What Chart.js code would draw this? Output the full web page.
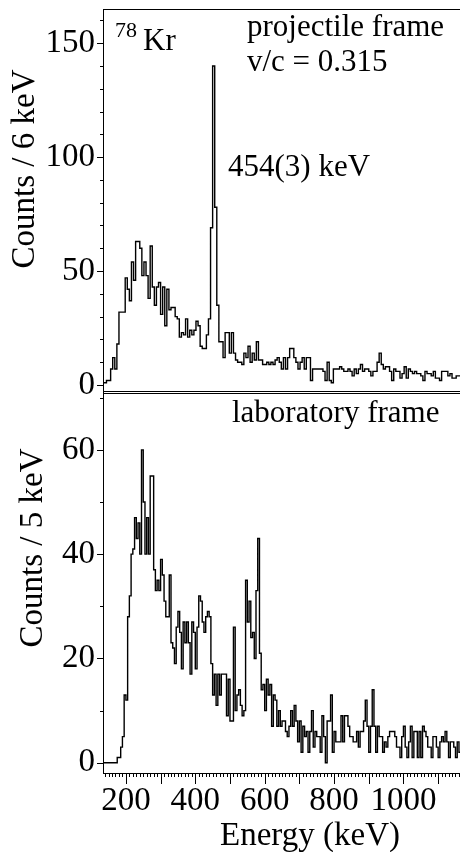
<!DOCTYPE html>
<html>
<head>
<meta charset="utf-8">
<title>78Kr spectra</title>
<script src="https://cdn.jsdelivr.net/npm/chart.js@4.4.1/dist/chart.umd.min.js"></script>
<style>
  html, body { margin: 0; padding: 0; background: #fff; }
</style>
</head>
<body>
<canvas id="spectrumChart" width="460" height="852"></canvas>
<script>
/* ---------- spectra: projectile frame (top) and laboratory frame (bottom) ---------- */
Chart.defaults.font.family = '"Liberation Serif", "Times New Roman", serif';
Chart.defaults.color = "#000";

// Doppler corrected spectrum, 6 keV bins starting at 132 keV
const pfStart = 132;
const pfBin = 6;
const pfCounts = [
    1, 1, 2, 2, 7, 12, 7, 18, 32, 32,
    32, 47, 42, 37, 54, 46, 63, 63, 60, 48,
    54, 48, 38, 61, 43, 35, 43, 45, 31, 43,
    26, 42, 33, 34, 34, 30, 29, 21, 23, 22,
    29, 21, 24, 22, 24, 28, 26, 17, 16, 16,
    22, 29, 69, 140, 78, 35, 19, 19, 12, 23,
    23, 14, 23, 14, 11, 10, 10, 9, 14, 12,
    17, 10, 14, 11, 19, 11, 11, 9, 9, 10,
    9, 10, 9, 11, 12, 10, 7, 12, 7, 12,
    16, 16, 12, 10, 7, 10, 12, 7, 12, 12,
    2, 7, 7, 7, 7, 7, 6, 2, 10, 2,
    1, 7, 7, 7, 8, 7, 6, 6, 7, 6,
    4, 7, 5, 7, 9, 6, 7, 7, 6, 4,
    6, 6, 10, 14, 9, 7, 8, 8, 6, 2,
    7, 6, 6, 3, 5, 8, 3, 7, 6, 5,
    6, 5, 5, 4, 2, 6, 5, 5, 4, 6,
    3, 3, 2, 6, 6, 6, 4, 5, 3, 3,
    4, 4,
];

// uncorrected spectrum, 5 keV bins starting at 130 keV
const labStart = 130;
const labBin = 5;
const labCounts = [
    0, 0, 0, 0, 0, 0, 0, 0, 0, 1,
    1, 3, 5, 13, 12, 28, 32, 40, 41, 47,
    43, 46, 40, 60, 50, 40, 47, 40, 55, 55,
    37, 33, 35, 33, 39, 36, 31, 28, 28, 36,
    23, 22, 19, 26, 29, 25, 18, 27, 23, 27,
    23, 17, 27, 25, 18, 26, 32, 31, 27, 25,
    28, 29, 28, 19, 13, 17, 11, 17, 13, 17,
    17, 17, 9, 16, 8, 8, 26, 10, 13, 14,
    11, 9, 10, 35, 27, 31, 24, 25, 20, 33,
    43, 21, 14, 15, 10, 16, 13, 15, 7, 13,
    12, 7, 10, 7, 8, 8, 6, 5, 7, 10,
    7, 11, 8, 4, 8, 2, 7, 5, 6, 2,
    6, 10, 3, 6, 5, 5, 2, 9, 5, 0,
    8, 8, 13, 2, 6, 4, 4, 4, 9, 4,
    9, 9, 7, 5, 5, 4, 4, 6, 3, 6,
    6, 8, 12, 7, 2, 7, 14, 7, 2, 7,
    5, 5, 2, 4, 3, 5, 6, 6, 6, 5,
    3, 3, 1, 5, 7, 3, 1, 4, 7, 1,
    6, 6, 1, 6, 1, 7, 6, 5, 3, 3,
    1, 5, 5, 3, 1, 4, 5, 4, 6, 4,
    1, 4, 4, 3, 1, 4, 2,
];

const energyTicks = [200, 400, 600, 800, 1000];
const pfTicks = [0, 50, 100, 150];
const labTicks = [0, 20, 40, 60];

// bin edges -> points for a stepped line (last bin closed with an extra point)
function histPoints(start, width, counts) {
    const pts = counts.map((c, i) => ({ x: start + i * width, y: c }));
    pts.push({ x: start + counts.length * width, y: counts[counts.length - 1] });
    return pts;
}

function fixedTicks(values) {
    return (scale) => {
        scale.ticks = values.map((v) => ({ value: v }));
    };
}

// no extra room for labels hanging over the plot edges
function noOverhang(scale) {
    scale.paddingTop = 0;
    scale.paddingBottom = 0;
    scale.paddingLeft = 0;
    scale.paddingRight = 0;
}

// frame lines and all tick marks (long / short)
const frameLines = {
    id: "frameLines",
    afterDraw(chart) {
        const { ctx, chartArea } = chart;
        const sx = chart.scales.x;
        const sTop = chart.scales.yPf;
        const sBot = chart.scales.yLab;
        ctx.save();
        ctx.strokeStyle = "#000";
        ctx.lineWidth = 1;
        ctx.beginPath();
        ctx.moveTo(chartArea.left, chartArea.top + 0.5);
        ctx.lineTo(chartArea.right, chartArea.top + 0.5);
        const mid = Math.round(sTop.bottom);
        ctx.moveTo(chartArea.left, mid - 0.5);
        ctx.lineTo(chartArea.right, mid - 0.5);
        ctx.moveTo(chartArea.left, mid + 1.5);
        ctx.lineTo(chartArea.right, mid + 1.5);

        for (let e = 140; e <= sx.max; e += 10) {
            const px = Math.round(sx.getPixelForValue(e)) + 0.5;
            const len = e % 100 === 0 ? 11 : 4;
            ctx.moveTo(px, sx.top);
            ctx.lineTo(px, sx.top + len);
        }

        const countTicks = (scale, top, major) => {
            for (let v = 0; v <= top; v += 10) {
                const py = Math.round(scale.getPixelForValue(v)) + 0.5;
                const len = v % major === 0 ? 6 : 3;
                ctx.moveTo(scale.right, py);
                ctx.lineTo(scale.right - len, py);
            }
        };
        countTicks(sTop, 160, 50);
        countTicks(sBot, 70, 20);
        ctx.stroke();
        ctx.restore();
    },
};

// axis titles and panel annotations
const panelText = {
    id: "panelText",
    afterDraw(chart) {
        const ctx = chart.ctx;
        const serif = '"Liberation Serif", "Times New Roman", serif';
        ctx.save();
        ctx.fillStyle = "#000";
        ctx.textBaseline = "alphabetic";
        ctx.textAlign = "left";
        ctx.font = "22px " + serif;
        ctx.fillText("78", 115, 37);
        ctx.font = "31px " + serif;
        ctx.fillText("Kr", 143, 50);
        ctx.fillText("projectile frame", 247, 36);
        ctx.fillText("v/c = 0.315", 247, 71);
        ctx.fillText("454(3) keV", 228, 176);
        ctx.fillText("laboratory frame", 232, 422);

        ctx.font = "33px " + serif;
        ctx.textAlign = "center";
        ctx.fillText("Energy (keV)", 310, 845);
        [
            ["Counts / 6 keV", 34, 169],
            ["Counts / 5 keV", 42, 548],
        ].forEach(([txt, x, y]) => {
            ctx.save();
            ctx.translate(x, y);
            ctx.rotate(-Math.PI / 2);
            ctx.fillText(txt, 0, 0);
            ctx.restore();
        });
        ctx.restore();
    },
};

const lineStyle = {
    borderColor: "#000",
    borderWidth: 1.4,
    pointRadius: 0,
    stepped: true,
    fill: false,
    tension: 0,
};

const countAxis = {
    type: "linear",
    position: "left",
    stack: "panels",
    grid: { display: false, drawTicks: false },
    border: { display: true, color: "#000", width: 1 },
    ticks: {
        font: { size: 33 },
        padding: 8,
        autoSkip: false,
        callback: (v) => String(v),
    },
    afterFit: (scale) => {
        scale.width = 103;
        noOverhang(scale);
    },
};

const config = {
    type: "line",
    data: {
        datasets: [
            {
                label: "projectile frame",
                data: histPoints(pfStart, pfBin, pfCounts),
                yAxisID: "yPf",
                ...lineStyle,
            },
            {
                label: "laboratory frame",
                data: histPoints(labStart, labBin, labCounts),
                yAxisID: "yLab",
                ...lineStyle,
            },
        ],
    },
    options: {
        responsive: false,
        devicePixelRatio: 1,
        animation: false,
        events: [],
        layout: { padding: { top: 9, left: 0, right: 0, bottom: 0 } },
        plugins: {
            legend: { display: false },
            tooltip: { enabled: false },
        },
        scales: {
            x: {
                type: "linear",
                min: 134,
                max: 1163,
                grid: { display: false, drawTicks: false },
                border: { display: true, color: "#000", width: 1 },
                ticks: {
                    font: { size: 33 },
                    padding: 9,
                    maxRotation: 0,
                    autoSkip: false,
                    callback: (v) => String(v),
                },
                afterBuildTicks: fixedTicks(energyTicks),
                afterFit: (scale) => {
                    scale.height = 79;
                    noOverhang(scale);
                },
            },
            yPf: {
                ...countAxis,
                weight: 1,
                stackWeight: 383,
                min: -3.07,
                max: 165,
                afterBuildTicks: fixedTicks(pfTicks),
            },
            yLab: {
                ...countAxis,
                weight: 0,
                stackWeight: 381,
                min: -1.97,
                max: 71.1,
                afterBuildTicks: fixedTicks(labTicks),
            },
        },
    },
    plugins: [frameLines, panelText],
};

const spectrumChart = new Chart(
    document.getElementById("spectrumChart"),
    config
);
</script>
</body>
</html>
